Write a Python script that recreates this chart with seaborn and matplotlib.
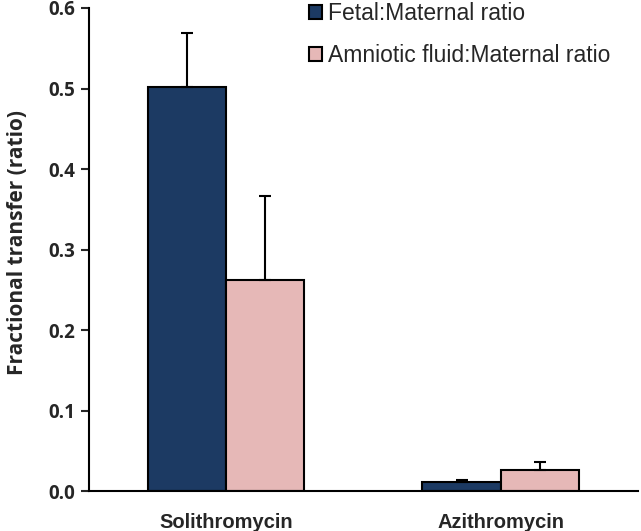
import pandas as pd
import numpy as np
import matplotlib
matplotlib.use('Agg')
import matplotlib.pyplot as plt
import seaborn as sns

drugs = ['Solithromycin', 'Azithromycin']
series = ['Fetal:Maternal ratio', 'Amniotic fluid:Maternal ratio']
fetal = [0.502, 0.012]
amniotic = [0.262, 0.026]
fetal_err = [0.067, 0.002]
amniotic_err = [0.104, 0.010]
yticks = [0.0, 0.1, 0.2, 0.3, 0.4, 0.5, 0.6]

colors = ['#1c3a63', '#e6b8b7']

df = pd.DataFrame({
    'drug': drugs * 2,
    'series': [series[0]] * 2 + [series[1]] * 2,
    'value': fetal + amniotic,
    'err': fetal_err + amniotic_err,
})

sns.set_style('white')
plt.rcParams['font.family'] = ['Liberation Sans', 'DejaVu Sans']

fig = plt.figure(figsize=(6.41, 5.31), dpi=100)
ax = fig.add_axes([0.139, 0.075, 0.856, 0.91])

sns.barplot(data=df, x='drug', y='value', hue='series', order=drugs,
            hue_order=series, palette=colors, saturation=1, width=0.57, gap=0,
            edgecolor='black', linewidth=1.5, errorbar=None, ax=ax)

# upward-only error bars on top of each bar
for i, s in enumerate(series):
    cont = ax.containers[i]
    sub = df[df['series'] == s].set_index('drug').loc[drugs]
    xs = [p.get_x() + p.get_width() / 2 for p in cont.patches]
    ys = sub['value'].values
    errs = sub['err'].values
    ax.errorbar(xs, ys, yerr=[np.zeros_like(errs), errs], fmt='none',
                ecolor='black', elinewidth=1.5, capsize=4, capthick=1.5, zorder=1)

ax.set_xlim(-0.5, 1.5)
ax.set_ylim(0, 0.6)
ax.set_yticks(yticks)
ax.set_yticklabels([f'{t:.1f}' for t in yticks], fontsize=13.5, fontweight='bold',
                   family=['Open Sans', 'DejaVu Sans'])
ax.set_xticks([0, 1])
ax.set_xticklabels(drugs, fontsize=14.5, fontweight='bold')
ax.set_xticks([-0.5, 0.5, 1.5], minor=True)
ax.tick_params(axis='x', which='major', length=0, pad=16)
ax.tick_params(axis='x', which='minor', length=6, width=1.5, direction='out')
ax.tick_params(axis='y', length=6, width=1.5, direction='out', left=True, pad=4)
ax.set_xlabel('')
ax.set_ylabel('Fractional transfer (ratio)', fontsize=15, fontweight='bold',
              family=['Open Sans', 'DejaVu Sans'])
ax.yaxis.set_label_coords(-0.112, 0.515)

sns.despine(ax=ax)
for sp in ['left', 'bottom']:
    ax.spines[sp].set_linewidth(1.5)
    ax.spines[sp].set_color('black')

leg = ax.legend(loc='upper left', bbox_to_anchor=(0.363, 1.055), frameon=False,
                fontsize=16.5, handlelength=0.55, handleheight=0.55, handletextpad=0.3,
                labelspacing=0.85)
for h in leg.legend_handles:
    h.set_linewidth(1.5)

fig.savefig('out.png', dpi=100)
